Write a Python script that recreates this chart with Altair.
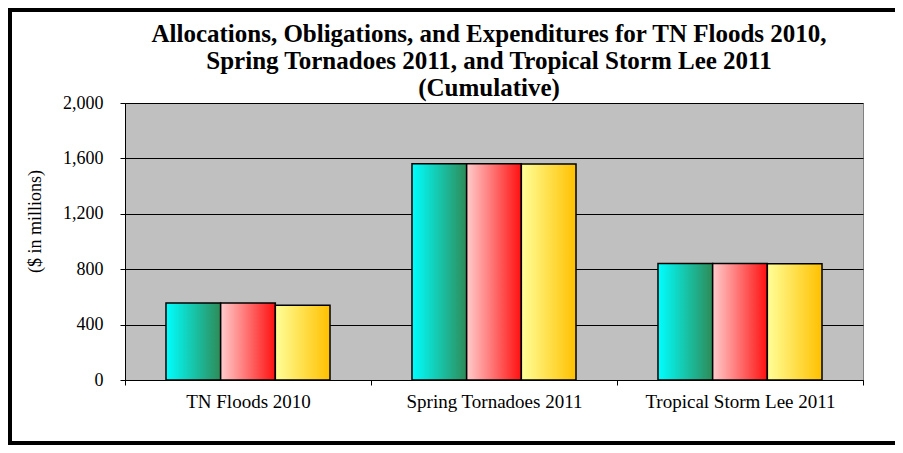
import altair as alt
import pandas as pd

categories = ["TN Floods 2010", "Spring Tornadoes 2011", "Tropical Storm Lee 2011"]
series = ["Allocations", "Obligations", "Expenditures"]
allocations = [556, 1561, 841]
obligations = [556, 1561, 841]
expenditures = [539, 1559, 840]
y_ticks = [0, 400, 800, 1200, 1600, 2000]
title_lines = [
    "Allocations, Obligations, and Expenditures for TN Floods 2010,",
    "Spring Tornadoes 2011, and Tropical Storm Lee 2011",
    "(Cumulative)",
]

rows = []
for s, vals in zip(series, [allocations, obligations, expenditures]):
    for c, v in zip(categories, vals):
        rows.append({"category": c, "series": s, "value": v})
df = pd.DataFrame(rows)

gradients = {
    "Allocations": ("#00FFFF", "#2E8B57"),
    "Obligations": ("#FFCCCC", "#FF1010"),
    "Expenditures": ("#FFFF99", "#FFC000"),
}

FONT = "Liberation Serif, Times New Roman, serif"

x_enc = alt.X(
    "category:N",
    sort=categories,
    scale=alt.Scale(paddingInner=0, paddingOuter=0),
    axis=alt.Axis(
        title=None, labelAngle=0, tickBand="extent", labelFont=FONT,
        labelFontSize=19, labelColor="black", domainColor="black",
        tickColor="black", tickSize=5, labelPadding=7, grid=False,
        labelLimit=400,
    ),
)
y_enc = alt.Y(
    "value:Q",
    scale=alt.Scale(domain=[0, 2000], nice=False),
    axis=alt.Axis(
        title="($ in millions)", values=y_ticks, format=",.0f", labelFont=FONT,
        labelFontSize=18, labelColor="black", titleFont=FONT, titleFontSize=18,
        titleFontWeight="normal", titleColor="black", domainColor="black",
        tickColor="black", tickSize=5, labelPadding=17, grid=True,
        gridColor="black", gridWidth=1, titleX=-90, titleY=118,
        titleAngle=-90, titleAlign="center", titleBaseline="middle",
    ),
)
xoff = alt.XOffset(
    "series:N", sort=series,
    scale=alt.Scale(domain=series, paddingInner=0, paddingOuter=0.75),
)

one = pd.DataFrame({"a": [0]})

frame = alt.Chart(one).mark_rect(
    fill="transparent", stroke="black", strokeWidth=4
).encode(
    x=alt.value(-115), x2=alt.value(790), y=alt.value(-93), y2=alt.value(340)
)

title = alt.Chart(one).mark_text(
    text=title_lines, font=FONT, fontSize=25, fontWeight="bold", color="black",
    align="center", baseline="alphabetic", lineHeight=27,
).encode(x=alt.value(364), y=alt.value(-61))

layers = [frame]
for s in series:
    c0, c1 = gradients[s]
    grad = alt.LinearGradient(
        gradient="linear",
        stops=[alt.GradientStop(color=c0, offset=0), alt.GradientStop(color=c1, offset=1)],
        x1=0, x2=1, y1=0, y2=0,
    )
    layers.append(
        alt.Chart(df).transform_filter(alt.datum.series == s).mark_bar(
            color=grad, stroke="black", strokeWidth=1.5
        ).encode(x=x_enc, y=y_enc, xOffset=xoff)
    )
layers.append(title)

chart = alt.layer(*layers).properties(
    width=738,
    height=277,
    autosize=alt.AutoSizeParams(type="none"),
    padding={"left": 117, "top": 95, "right": 32, "bottom": 65},
    background="white",
).configure_view(
    fill="#C0C0C0", stroke="#808080", strokeWidth=1
).configure_axis(
    labelFont=FONT, titleFont=FONT
)

chart.save("out.html", embed_options={"renderer": "svg", "actions": False})
